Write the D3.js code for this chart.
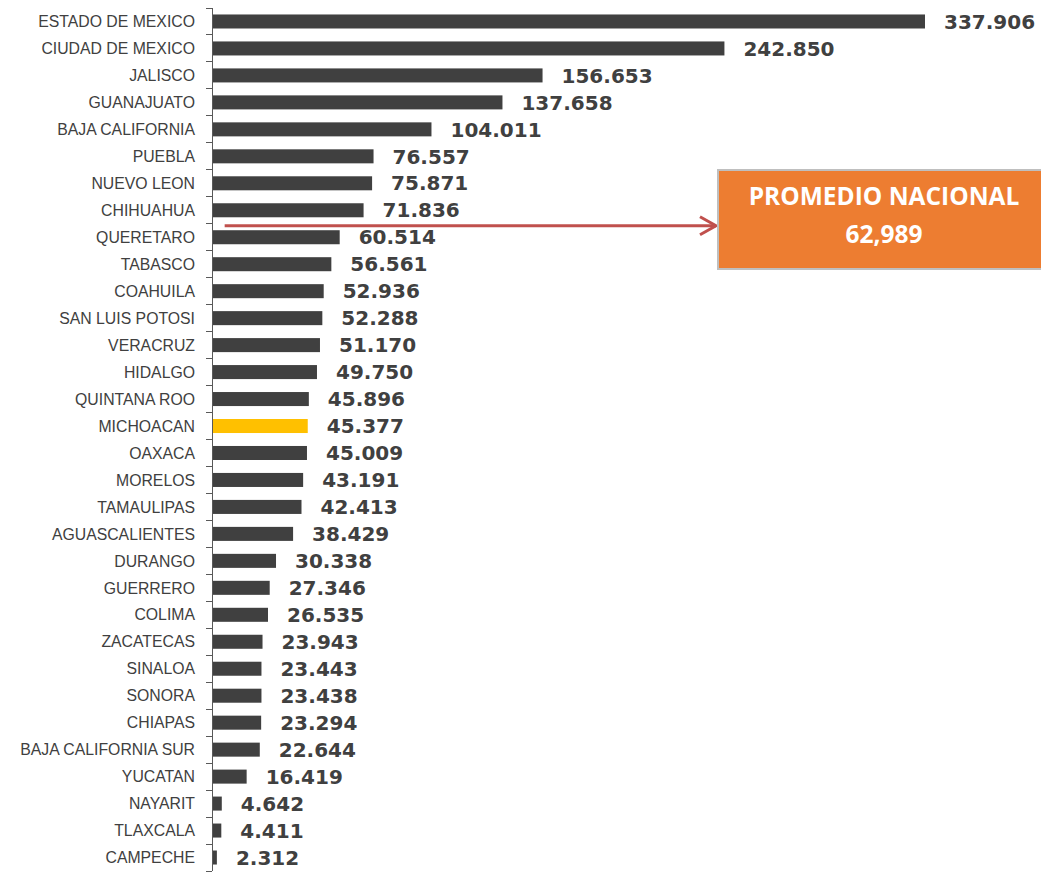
<!DOCTYPE html>
<style>
body {
  margin: 0;
  background-color: #ffffff;
  overflow: hidden;
}
.axis path,
.axis line {
  fill: none;
  stroke: #595959;
  stroke-width: 1px;
  shape-rendering: crispEdges;
}
</style>
<svg width="1041" height="873"></svg>
<script src="https://d3js.org/d3.v7.min.js"></script>
<script>
var estados = ["ESTADO DE MEXICO", "CIUDAD DE MEXICO", "JALISCO", "GUANAJUATO", "BAJA CALIFORNIA",
  "PUEBLA", "NUEVO LEON", "CHIHUAHUA", "QUERETARO", "TABASCO", "COAHUILA", "SAN LUIS POTOSI",
  "VERACRUZ", "HIDALGO", "QUINTANA ROO", "MICHOACAN", "OAXACA", "MORELOS", "TAMAULIPAS",
  "AGUASCALIENTES", "DURANGO", "GUERRERO", "COLIMA", "ZACATECAS", "SINALOA", "SONORA",
  "CHIAPAS", "BAJA CALIFORNIA SUR", "YUCATAN", "NAYARIT", "TLAXCALA", "CAMPECHE"];
var valores = [337.906, 242.850, 156.653, 137.658, 104.011, 76.557, 75.871, 71.836, 60.514,
  56.561, 52.936, 52.288, 51.170, 49.750, 45.896, 45.377, 45.009, 43.191, 42.413, 38.429,
  30.338, 27.346, 26.535, 23.943, 23.443, 23.438, 23.294, 22.644, 16.419, 4.642, 4.411, 2.312];
var destacado = "MICHOACAN";
var promedioTexto = ["PROMEDIO NACIONAL", "62,989"];

var data = estados.map(function(d, i) { return {estado: d, valor: valores[i]}; });

var svg = d3.select("svg"),
    margin = {top: 8, right: 116, bottom: 2, left: 212},
    width = +svg.attr("width") - margin.left - margin.right,
    height = +svg.attr("height") - margin.top - margin.bottom,
    g = svg.append("g").attr("transform", "translate(" + margin.left + "," + margin.top + ")");

var x = d3.scaleLinear()
    .domain([0, d3.max(valores)])
    .range([0, width]);

var y = d3.scaleBand()
    .domain(estados)
    .range([0, height])
    .paddingInner(0.48)
    .paddingOuter(0.24);

// bars
g.selectAll(".bar")
  .data(data)
  .enter().append("rect")
    .attr("class", "bar")
    .attr("x", 0)
    .attr("y", function(d) { return y(d.estado); })
    .attr("width", function(d) { return x(d.valor); })
    .attr("height", y.bandwidth())
    .attr("fill", function(d) { return d.estado === destacado ? "#FFC000" : "#404040"; });

// value labels
g.selectAll(".val")
  .data(data)
  .enter().append("text")
    .attr("class", "val")
    .attr("x", function(d) { return x(d.valor) + 19; })
    .attr("y", function(d) { return y(d.estado) + y.bandwidth() / 2; })
    .attr("dy", "0.36em")
    .attr("font-family", "DejaVu Sans")
    .attr("font-weight", "bold")
    .attr("font-size", 20)
    .attr("fill", "#404040")
    .text(function(d) { return d3.format(".3f")(d.valor); });

// axis with ticks between categories
var yAxis = g.append("g").attr("class", "axis");
yAxis.append("line")
    .attr("x1", 0).attr("x2", 0)
    .attr("y1", 0).attr("y2", height);
var bounds = estados.map(function(d) { return y(d) - y.step() * y.paddingInner() / 2; });
bounds.push(height);
bounds[0] = 0;
yAxis.selectAll(".tk")
  .data(bounds)
  .enter().append("line")
    .attr("x1", -6).attr("x2", 0)
    .attr("y1", function(d) { return d; })
    .attr("y2", function(d) { return d; });

g.selectAll(".lbl")
  .data(estados)
  .enter().append("text")
    .attr("class", "lbl")
    .attr("x", -17)
    .attr("y", function(d) { return y(d) + y.bandwidth() / 2; })
    .attr("dy", "0.36em")
    .attr("text-anchor", "end")
    .attr("font-family", "Liberation Sans, Arial, sans-serif")
    .attr("font-size", 15.8)
    .attr("fill", "#404040")
    .text(function(d) { return d; });

// arrow toward the national average box
var ay = y("QUERETARO") - y.step() * y.paddingInner() / 2 + 2;
var boxX = 718, boxY = 170, boxW = 332, boxH = 99;
svg.append("line")
    .attr("x1", margin.left + x(6))
    .attr("x2", boxX - 2)
    .attr("y1", margin.top + ay)
    .attr("y2", margin.top + ay)
    .attr("stroke", "#C0504D")
    .attr("stroke-width", 3);
svg.append("path")
    .attr("d", "M" + (boxX - 18) + "," + (margin.top + ay - 9) +
               "L" + (boxX - 2) + "," + (margin.top + ay) +
               "L" + (boxX - 18) + "," + (margin.top + ay + 9))
    .attr("fill", "none")
    .attr("stroke", "#C0504D")
    .attr("stroke-width", 3);

svg.append("rect")
    .attr("x", boxX).attr("y", boxY)
    .attr("width", boxW).attr("height", boxH)
    .attr("fill", "#ED7D31")
    .attr("stroke", "#BFBFBF")
    .attr("stroke-width", 2);

svg.selectAll(".prom")
  .data(promedioTexto)
  .enter().append("text")
    .attr("class", "prom")
    .attr("x", boxX + boxW / 2)
    .attr("y", function(d, i) { return boxY + 35 + i * 38; })
    .attr("text-anchor", "middle")
    .attr("font-family", "Open Sans")
    .attr("font-weight", "bold")
    .attr("font-size", 24.5)
    .attr("fill", "#ffffff")
    .text(function(d) { return d; });
</script>
